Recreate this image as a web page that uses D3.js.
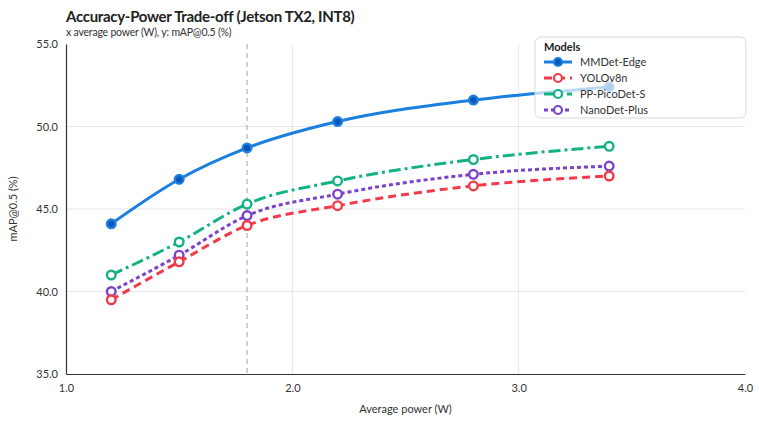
<!DOCTYPE html>
<html>
<head>
<meta charset="utf-8">
<script src="https://cdn.jsdelivr.net/npm/d3@7"></script>
<style>
  body { margin: 0; background: #fff; }
  svg { font-family: "Source Sans Pro", Lato, "Open Sans", sans-serif; }
</style>
</head>
<body>
<div class="canvas"></div>
<script>
// data
const power = [1.2, 1.5, 1.8, 2.2, 2.8, 3.4];
const mmdetEdge = [44.1, 46.8, 48.7, 50.3, 51.6, 52.4];
const yolov8n = [39.5, 41.8, 44.0, 45.2, 46.4, 47.0];
const picoDet = [41.0, 43.0, 45.3, 46.7, 48.0, 48.8];
const nanoDet = [40.0, 42.2, 44.6, 45.9, 47.1, 47.6];
const xTicks = [1.0, 2.0, 3.0, 4.0];
const yTicks = [35.0, 40.0, 45.0, 50.0, 55.0];
const markerPower = 1.8;

const series = [
  {name: 'MMDet-Edge', values: mmdetEdge, color: '#1a7fe0', dash: null, filled: true},
  {name: 'YOLOv8n', values: yolov8n, color: '#f23a4a', dash: '8,5', filled: false},
  {name: 'PP-PicoDet-S', values: picoDet, color: '#13b184', dash: '12,4,3,4', filled: false},
  {name: 'NanoDet-Plus', values: nanoDet, color: '#7b42cc', dash: '4,3', filled: false}
];

const width = 759, height = 427;
const margin = {top: 44, right: 14, bottom: 53, left: 66};
const graphWidth = width - margin.left - margin.right;
const graphHeight = height - margin.top - margin.bottom;

const svg = d3.select('.canvas')
  .append('svg')
    .attr('width', width)
    .attr('height', height);

// title
svg.append('text')
  .attr('x', 66).attr('y', 22)
  .attr('font-size', 15).attr('font-weight', 700).attr('fill', '#222')
  .attr('letter-spacing', -0.3)
  .text('Accuracy-Power Trade-off (Jetson TX2, INT8)');
svg.append('text')
  .attr('x', 66).attr('y', 36)
  .attr('font-size', 10.5).attr('fill', '#333')
  .attr('letter-spacing', -0.2)
  .text('x average power (W), y: mAP@0.5 (%)');

const graph = svg.append('g')
  .attr('transform', `translate(${margin.left}, ${margin.top})`);

// scales
const x = d3.scaleLinear().domain([1, 4]).range([0, graphWidth]);
const y = d3.scaleLinear().domain([35, 55]).range([graphHeight, 0]);

// grid
graph.append('g').selectAll('line')
  .data(yTicks.slice(1, -1))
  .join('line')
    .attr('x1', 0).attr('x2', graphWidth)
    .attr('y1', d => y(d)).attr('y2', d => y(d))
    .attr('stroke', '#e3e6ea').attr('stroke-width', 1);
graph.append('g').selectAll('line')
  .data(xTicks.slice(1, -1))
  .join('line')
    .attr('x1', d => x(d)).attr('x2', d => x(d))
    .attr('y1', 0).attr('y2', graphHeight)
    .attr('stroke', '#e3e6ea').attr('stroke-width', 1);

// vertical reference line
graph.append('line')
  .attr('x1', x(markerPower)).attr('x2', x(markerPower))
  .attr('y1', 0).attr('y2', graphHeight)
  .attr('stroke', '#b4b8bd').attr('stroke-width', 1.3)
  .attr('stroke-dasharray', '5,4');

// axes
const xAxis = d3.axisBottom(x).tickValues(xTicks).tickFormat(d3.format('.1f')).tickSize(0).tickPadding(10);
const yAxis = d3.axisLeft(y).tickValues(yTicks).tickFormat(d3.format('.1f')).tickSize(0).tickPadding(8);

const xAxisGroup = graph.append('g')
  .attr('transform', `translate(0, ${graphHeight})`)
  .call(xAxis);
const yAxisGroup = graph.append('g').call(yAxis);

[xAxisGroup, yAxisGroup].forEach(g => {
  g.select('.domain').attr('stroke', '#333').attr('stroke-width', 1.2);
  g.selectAll('text').attr('font-size', 11).attr('fill', '#333')
    .attr('font-family', '"Source Sans Pro", Lato, sans-serif');
});

// axis labels
svg.append('text')
  .attr('x', margin.left + graphWidth / 2).attr('y', 413)
  .attr('text-anchor', 'middle').attr('font-size', 11).attr('fill', '#333')
  .text('Average power (W)');
svg.append('text')
  .attr('transform', `translate(17, ${margin.top + graphHeight / 2}) rotate(-90)`)
  .attr('text-anchor', 'middle').attr('font-size', 11).attr('fill', '#333')
  .text('mAP@0.5 (%)');

// lines
const line = d3.line()
  .x((d, i) => x(power[i]))
  .y(d => y(d))
  .curve(d3.curveMonotoneX);

series.slice().reverse().forEach(s => {
  const g = graph.append('g');
  g.append('path')
    .attr('d', line(s.values))
    .attr('fill', 'none')
    .attr('stroke', s.color)
    .attr('stroke-width', 3)
    .attr('stroke-dasharray', s.dash);
  g.selectAll('circle')
    .data(s.values)
    .join('circle')
      .attr('cx', (d, i) => x(power[i]))
      .attr('cy', d => y(d))
      .attr('r', 4.3)
      .attr('fill', s.filled ? '#0b57b8' : '#fff')
      .attr('stroke', s.color)
      .attr('stroke-width', 2.4);
});

// legend
const legend = svg.append('g').attr('transform', 'translate(535, 37)');
legend.append('rect')
  .attr('width', 211).attr('height', 81).attr('rx', 6)
  .attr('fill', '#fff').attr('fill-opacity', 0.7)
  .attr('stroke', '#d6d9dd').attr('stroke-width', 1);
legend.append('text')
  .attr('x', 9).attr('y', 14)
  .attr('font-size', 11).attr('font-weight', 700).attr('fill', '#222')
  .text('Models');
series.forEach((s, i) => {
  const row = legend.append('g').attr('transform', `translate(0, ${25 + i * 16})`);
  row.append('line')
    .attr('x1', 9).attr('x2', 37)
    .attr('stroke', s.color).attr('stroke-width', 3)
    .attr('stroke-dasharray', s.dash);
  row.append('circle')
    .attr('cx', 23).attr('r', 4)
    .attr('fill', s.filled ? '#0b57b8' : '#fff')
    .attr('stroke', s.color).attr('stroke-width', 2.2);
  row.append('text')
    .attr('x', 45).attr('y', 4)
    .attr('font-size', 11).attr('fill', '#333')
    .text(s.name);
});
</script>
</body>
</html>
